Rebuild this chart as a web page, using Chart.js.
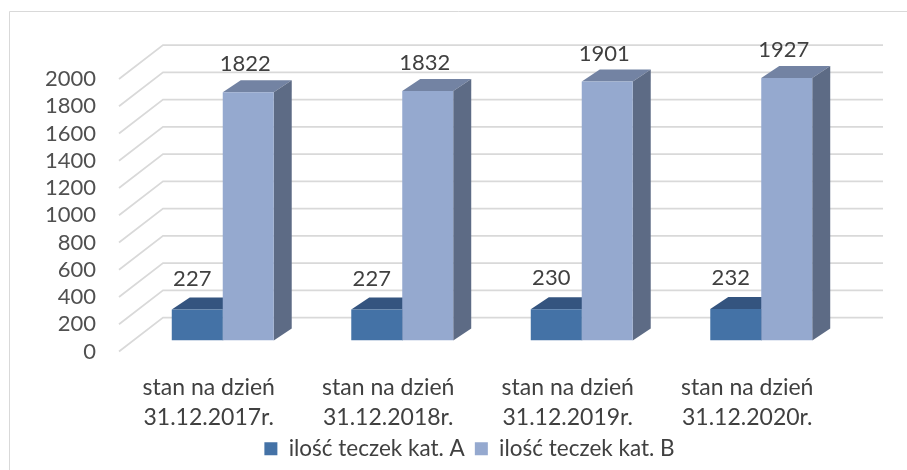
<!DOCTYPE html>
<html lang="pl">
  <head>
    <meta charset="UTF-8" />
    <title>Ilość teczek kat. A i B</title>
    <script src="https://cdn.jsdelivr.net/npm/chart.js"></script>
    <style>
      body {
        margin: 0;
        background-color: #ffffff;
      }
      .chart-container {
        position: relative;
        width: 907px;
        height: 470px;
      }
    </style>
  </head>
  <body>
    <div class="chart-container">
      <canvas id="teczkiChart"></canvas>
    </div>

    <script>
      const categories = [
        ["stan na dzień", "31.12.2017r."],
        ["stan na dzień", "31.12.2018r."],
        ["stan na dzień", "31.12.2019r."],
        ["stan na dzień", "31.12.2020r."],
      ];
      const seriesNames = ["ilość teczek kat. A", "ilość teczek kat. B"];
      const katA = [227, 227, 230, 232];
      const katB = [1822, 1832, 1901, 1927];

      const frontColors = ["#4472a6", "#95a9cf"];
      const topColors = ["#34547f", "#7383a3"];
      const sideColors = ["#2f4c73", "#5d6b85"];
      const textColor = "#404040";
      const tickColor = "#505050";
      const fontFamily = "Lato, 'Open Sans', sans-serif";

      // 3D look: bar depth and offsets of the back wall / front edge from the bar plane
      const barDepth = { dx: 18, dy: -12 };
      const backWall = { dx: 30, dy: -23 };
      const frontEdge = { dx: -14, dy: 11 };

      function poly(ctx, pts, color) {
        ctx.beginPath();
        ctx.moveTo(pts[0][0], pts[0][1]);
        for (let i = 1; i < pts.length; i++) ctx.lineTo(pts[i][0], pts[i][1]);
        ctx.closePath();
        ctx.fillStyle = color;
        ctx.fill();
      }

      const frame3d = {
        id: "frame3d",
        afterLayout(chart) {
          // legend in the reference is centred a bit right of the page centre
          const lg = chart.legend;
          lg.left = 88;
          lg.width = lg.right - lg.left;
        },
        beforeDraw(chart) {
          const ctx = chart.ctx;
          ctx.save();
          ctx.strokeStyle = "#d9d9d9";
          ctx.lineWidth = 1;
          ctx.beginPath();
          ctx.moveTo(9.5, chart.height);
          ctx.lineTo(9.5, 11.5);
          ctx.lineTo(chart.width, 11.5);
          ctx.stroke();
          ctx.restore();
        },
        beforeDatasetsDraw(chart) {
          const ctx = chart.ctx;
          const area = chart.chartArea;
          const y = chart.scales.y;
          ctx.save();
          // gridlines: front-left diagonal + back wall
          ctx.strokeStyle = "#d9d9d9";
          ctx.lineWidth = 1.75;
          y.ticks.forEach((t) => {
            const py = y.getPixelForValue(t.value);
            ctx.beginPath();
            ctx.moveTo(area.left + frontEdge.dx, py + frontEdge.dy);
            ctx.lineTo(area.left + backWall.dx, py + backWall.dy);
            ctx.lineTo(area.right + backWall.dx + 2, py + backWall.dy);
            ctx.stroke();
          });
          // top and side faces (front faces are drawn by Chart.js on top)
          chart.data.datasets.forEach((ds, i) => {
            chart.getDatasetMeta(i).data.forEach((bar) => {
              const { x, y: top, base, width } = bar.getProps(["x", "y", "base", "width"], true);
              const l = x - width / 2;
              const r = x + width / 2;
              const { dx, dy } = barDepth;
              poly(ctx, [[l, top], [r, top], [r + dx, top + dy], [l + dx, top + dy]], topColors[i]);
              poly(ctx, [[r, top], [r + dx, top + dy], [r + dx, base + dy], [r, base]], sideColors[i]);
            });
          });
          ctx.restore();
        },
        afterDatasetsDraw(chart) {
          const ctx = chart.ctx;
          ctx.save();
          ctx.fillStyle = textColor;
          ctx.font = "22px " + fontFamily;
          ctx.textAlign = "center";
          ctx.textBaseline = "middle";
          chart.data.datasets.forEach((ds, i) => {
            chart.getDatasetMeta(i).data.forEach((bar, j) => {
              const off = i === 0 ? [-5, -31] : [-3, -28];
              ctx.fillText(ds.data[j], bar.x + off[0], bar.y + off[1]);
            });
          });
          ctx.restore();
        },
      };

      const ctx = document.getElementById("teczkiChart").getContext("2d");
      const chart = new Chart(ctx, {
        type: "bar",
        data: {
          labels: categories,
          datasets: [
            { label: seriesNames[0], data: katA, backgroundColor: frontColors[0] },
            { label: seriesNames[1], data: katB, backgroundColor: frontColors[1] },
          ],
        },
        options: {
          responsive: true,
          maintainAspectRatio: false,
          animation: false,
          categoryPercentage: 0.568,
          barPercentage: 1.0,
          layout: {
            padding: { top: 68, right: 56, bottom: 0, left: 0 },
          },
          scales: {
            x: {
              grid: { display: false, drawTicks: false },
              border: { display: false },
              ticks: {
                color: textColor,
                font: { family: fontFamily, size: 23, lineHeight: 1.3 },
                padding: 32,
                labelOffset: -14,
                maxRotation: 0,
                autoSkip: false,
              },
              afterFit: (s) => {
                s.height = 87;
              },
            },
            y: {
              min: 0,
              max: 2000,
              grid: { display: false, drawTicks: false },
              border: { display: false },
              ticks: {
                stepSize: 200,
                autoSkip: false,
                color: tickColor,
                font: { family: fontFamily, size: 22 },
                padding: 37,
                labelOffset: 11,
                callback: (v) => String(v),
              },
              afterFit: (s) => {
                s.width = 133;
              },
            },
          },
          plugins: {
            legend: {
              position: "bottom",
              labels: {
                color: textColor,
                font: { family: fontFamily, size: 22.5 },
                boxWidth: 13,
                boxHeight: 13,
                padding: 10,
              },
            },
            tooltip: { enabled: false },
          },
        },
        plugins: [frame3d],
      });
    </script>
  </body>
</html>
